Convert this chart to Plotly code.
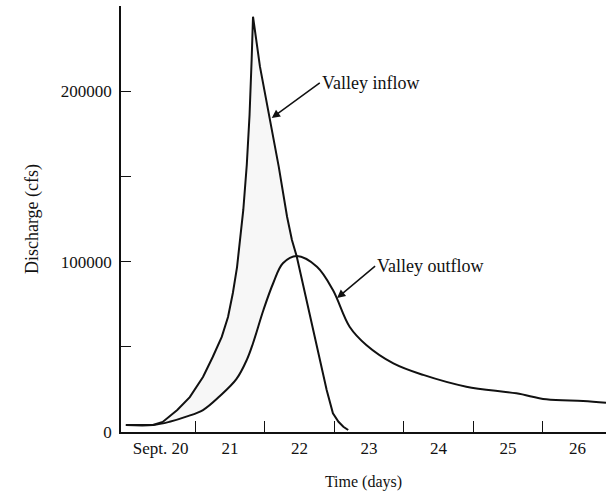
import plotly.graph_objects as go

# Flood routing through the valley: inflow vs. routed outflow hydrographs
inflow_day = [20.00, 20.39, 20.53, 20.74, 20.92, 21.11, 21.25, 21.38, 21.47, 21.54,
              21.60, 21.64, 21.69, 21.74, 21.78, 21.81, 21.83,
              21.93, 22.07, 22.20, 22.32, 22.39, 22.46, 22.62, 22.79, 22.89, 22.98,
              23.06, 23.13, 23.20]
inflow_cfs = [4100, 4100, 5900, 12900, 20500, 32300, 44000, 55800, 67500, 81600,
              96800, 112700, 130300, 156700, 186000, 218300, 243700,
              214400, 185000, 155700, 126300, 112700, 102900, 73500, 44200, 24600, 11000,
              6000, 3100, 1200]

outflow_day = [20.00, 20.39, 20.63, 20.87, 21.11, 21.35, 21.59, 21.74, 21.83, 21.98,
               22.12, 22.26, 22.46, 22.75, 22.98, 23.22, 23.46, 23.85, 24.28, 24.90,
               25.62, 26.05, 26.58, 26.91]
outflow_cfs = [4100, 4100, 6000, 9000, 12900, 21000, 31000, 42300, 52100, 71600,
               87300, 99000, 103300, 97000, 83300, 61800, 51100, 40300, 33500, 26600,
               22700, 19200, 18200, 17200]

day_ticks = [21, 22, 23, 24, 25, 26]
day_label_pos = [20.5, 21.5, 22.5, 23.5, 24.5, 25.5, 26.5]
day_labels = ["Sept. 20", "21", "22", "23", "24", "25", "26"]

q_ticks = [0, 50000, 100000, 150000, 200000, 250000]
q_labels = ["0", "", "100000", "", "200000", ""]

SERIF = "Liberation Serif, Times New Roman, serif"
INK = "#111111"

# Storage wedge: between the rising inflow and outflow limbs up to their crossing
cross_day = 22.46
wedge_x = [d for d in inflow_day if d <= cross_day] + \
          [d for d in reversed(outflow_day) if d <= cross_day]
wedge_y = [q for d, q in zip(inflow_day, inflow_cfs) if d <= cross_day] + \
          [q for d, q in zip(reversed(outflow_day), reversed(outflow_cfs)) if d <= cross_day]

fig = go.Figure()
fig.add_trace(go.Scatter(x=wedge_x, y=wedge_y, fill="toself",
                         fillcolor="rgba(0,0,0,0.03)", line=dict(width=0),
                         mode="lines", hoverinfo="skip", showlegend=False))
fig.add_trace(go.Scatter(x=outflow_day, y=outflow_cfs, mode="lines",
                         line=dict(color=INK, width=2, shape="spline", smoothing=1.0),
                         name="Valley outflow", showlegend=False))
fig.add_trace(go.Scatter(x=inflow_day, y=inflow_cfs, mode="lines",
                         line=dict(color=INK, width=2),
                         name="Valley inflow", showlegend=False))

fig.add_annotation(x=22.10, y=184300, text="Valley inflow", showarrow=True,
                   ax=48, ay=-35, xanchor="left", yanchor="middle",
                   arrowhead=2, arrowsize=1.1, arrowwidth=1.5, arrowcolor=INK,
                   font=dict(family=SERIF, size=18, color=INK))
fig.add_annotation(x=23.04, y=78600, text="Valley outflow", showarrow=True,
                   ax=38, ay=-32, xanchor="left", yanchor="middle",
                   arrowhead=2, arrowsize=1.1, arrowwidth=1.5, arrowcolor=INK,
                   font=dict(family=SERIF, size=18, color=INK))

fig.update_layout(
    width=606, height=491,
    margin=dict(l=121, r=0, t=6, b=59),
    paper_bgcolor="white", plot_bgcolor="white",
    font=dict(family=SERIF, size=17, color=INK),
    xaxis=dict(
        range=[19.93, 26.91], showgrid=False, zeroline=False,
        showline=True, linecolor=INK, linewidth=1.5,
        tickmode="array", tickvals=day_label_pos, ticktext=day_labels, ticks="",
        minor=dict(tickmode="array", tickvals=day_ticks, ticks="inside",
                   ticklen=11, tickwidth=1.2, tickcolor=INK, showgrid=False),
        title=dict(text="Time (days)", font=dict(family=SERIF, size=16), standoff=19),
    ),
    yaxis=dict(
        range=[0, 250000], showgrid=False, zeroline=False,
        showline=True, linecolor=INK, linewidth=1.5,
        tickmode="array", tickvals=q_ticks, ticktext=q_labels,
        ticks="inside", ticklen=10, tickwidth=1.2, tickcolor=INK,
        ticklabelstandoff=4,
        title=dict(text="Discharge (cfs)", font=dict(family=SERIF, size=18), standoff=18),
    ),
)

fig.write_html("out.html")
